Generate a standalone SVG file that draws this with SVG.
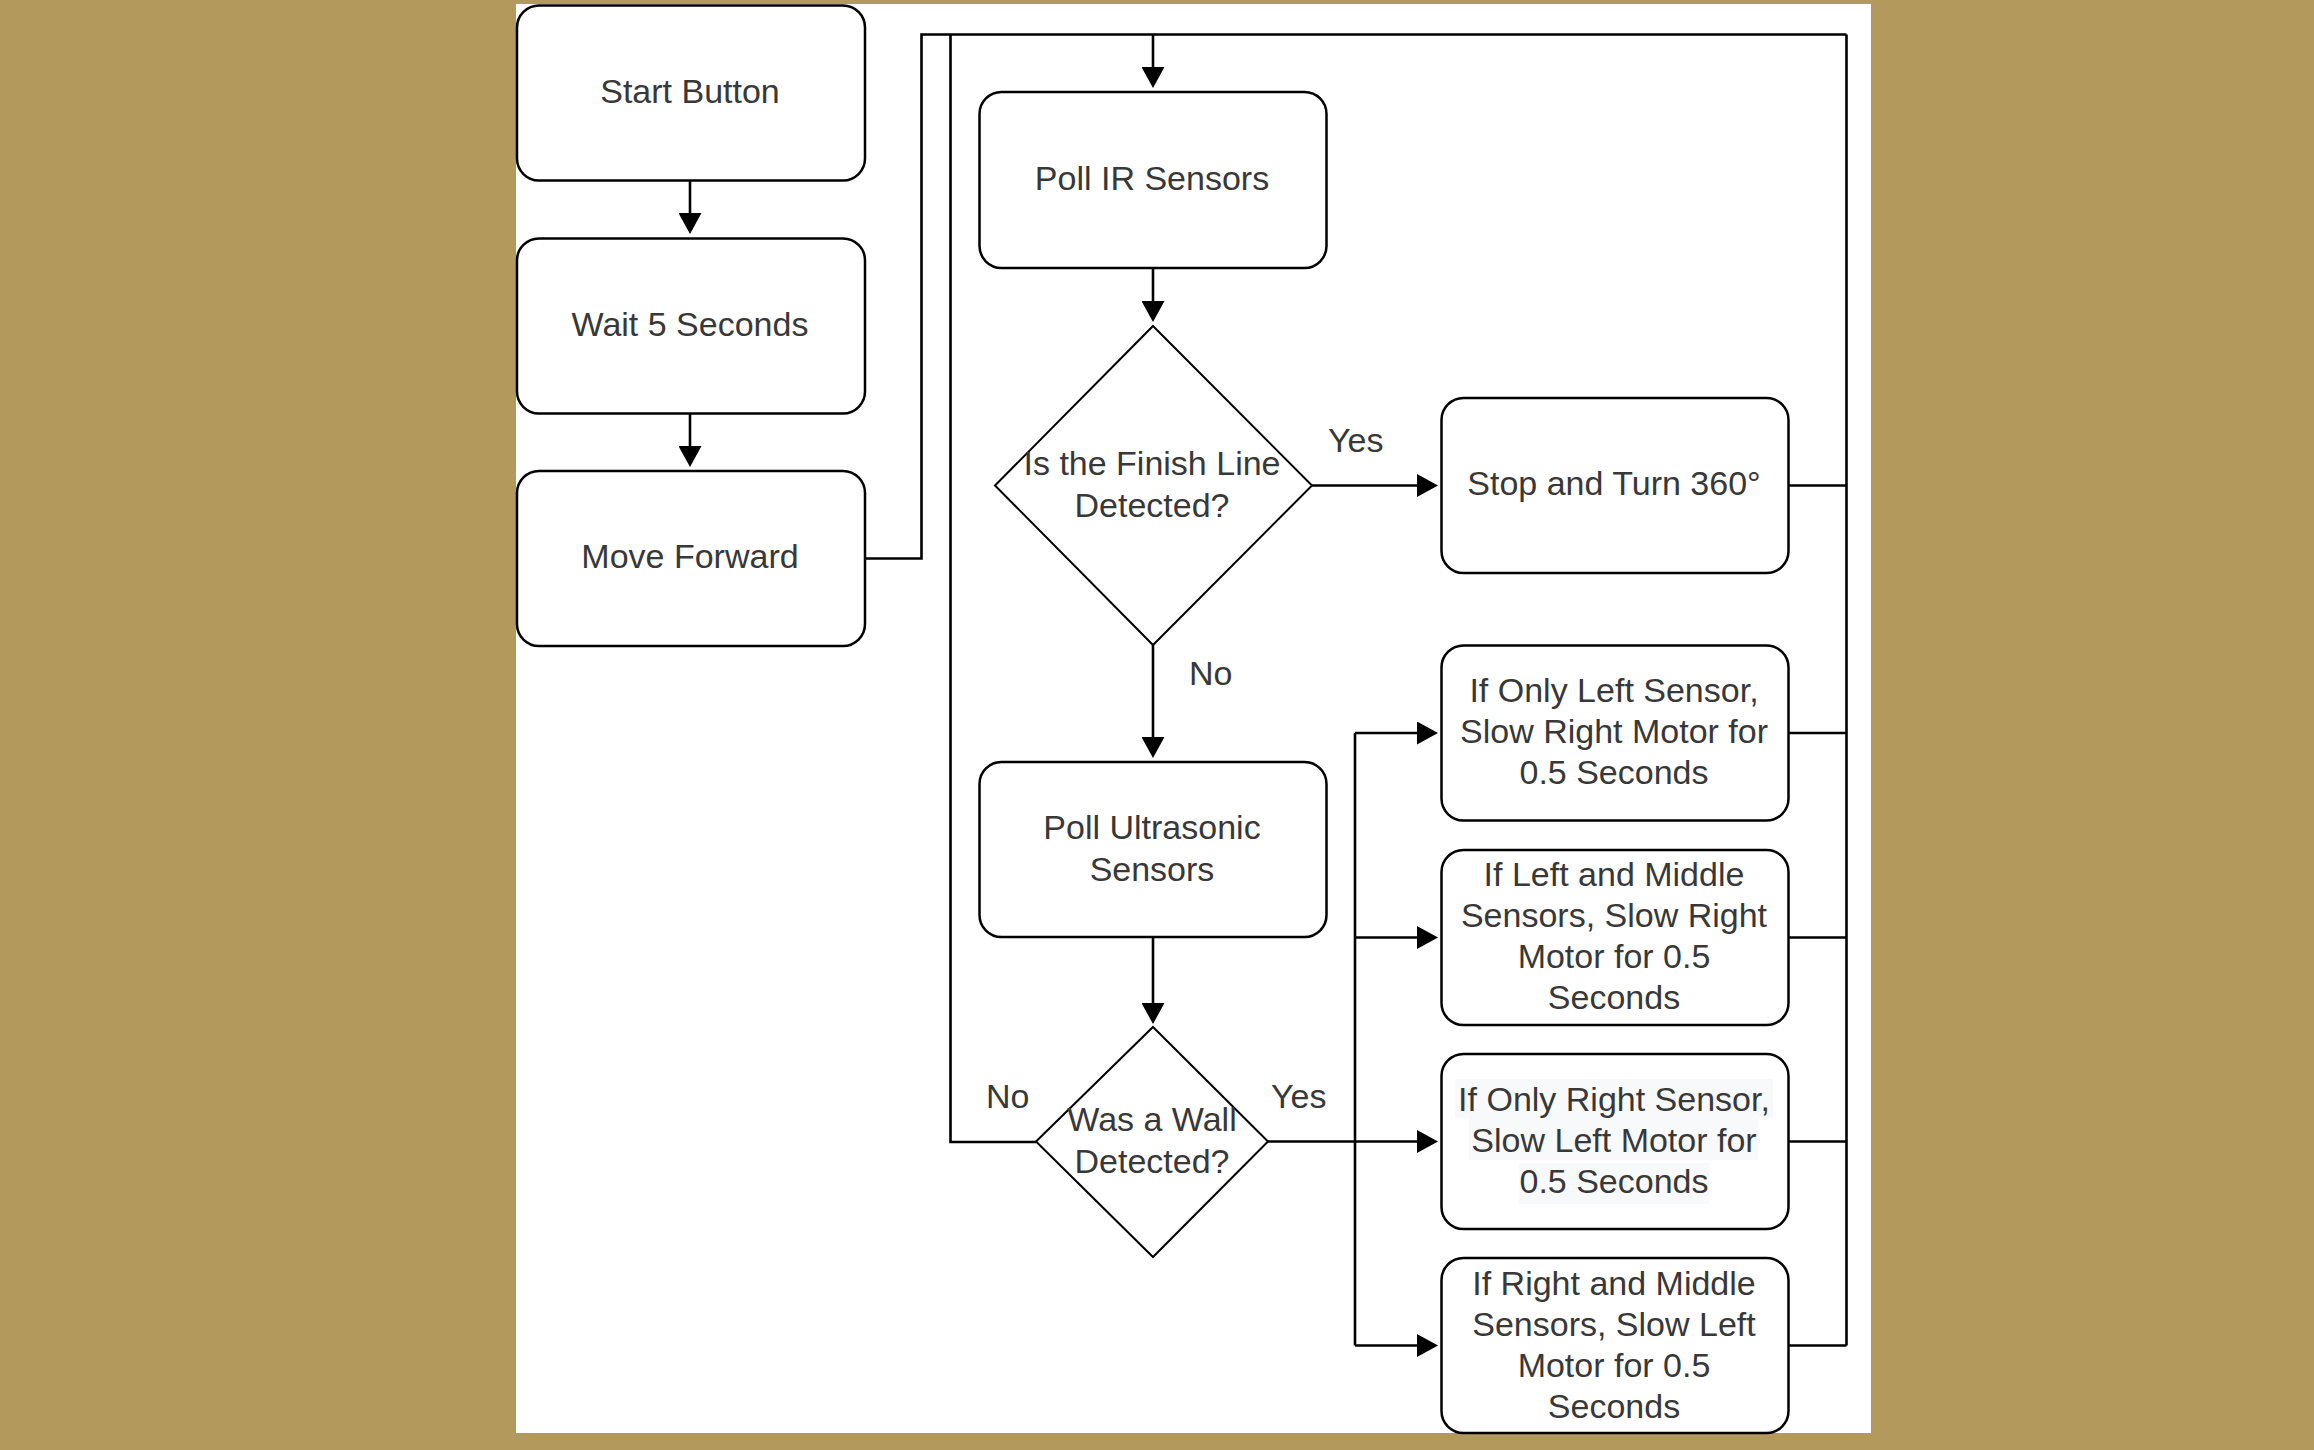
<svg xmlns="http://www.w3.org/2000/svg" width="2314" height="1450" viewBox="0 0 2314 1450">
  <defs>
    <style>
      .box { fill: #ffffff; stroke: #000000; stroke-width: 2.5; }
      .dia { fill: #ffffff; stroke: #000000; stroke-width: 2; }
      .wire { fill: none; stroke: #000000; stroke-width: 2.6; }
      .txt { font-family: "Liberation Sans", Arial, sans-serif; font-size: 34px; fill: #383838; text-anchor: middle; }
      .tag { font-family: "Liberation Sans", Arial, sans-serif; font-size: 34px; fill: #383838; }
      .hl { fill: #f8f9fa; }
    </style>
    <marker id="head" viewBox="0 0 21 23" refX="0" refY="11.5" markerWidth="21" markerHeight="23" markerUnits="userSpaceOnUse" orient="auto">
      <path d="M0,0 L21,11.5 L0,23 Z" fill="#000000"/>
    </marker>
  </defs>

  <!-- page background and white sheet -->
  <rect x="0" y="0" width="2314" height="1450" fill="#b3995b"/>
  <rect x="516" y="4" width="1355" height="1429" fill="#ffffff"/>

  <!-- connectors -->
  <g id="connectors">
    <path class="wire" d="M865,558.5 H921.5 V34.5 H1846.5"/>
    <path class="wire" d="M1036,1142 H950.5 V34.5"/>
    <path class="wire" d="M1846.5,34.5 V1345.5"/>
    <path class="wire" d="M1788.5,485.5 H1846.5 M1788.5,733 H1846.5 M1788.5,937.5 H1846.5 M1788.5,1141.5 H1846.5 M1788.5,1345.5 H1846.5"/>
    <path class="wire" d="M690,180.5 V213" marker-end="url(#head)"/>
    <path class="wire" d="M690,413.5 V446" marker-end="url(#head)"/>
    <path class="wire" d="M1153,34.5 V67" marker-end="url(#head)"/>
    <path class="wire" d="M1153,268 V301" marker-end="url(#head)"/>
    <path class="wire" d="M1312,485.5 H1417" marker-end="url(#head)"/>
    <path class="wire" d="M1153,645 V737" marker-end="url(#head)"/>
    <path class="wire" d="M1153,937 V1003" marker-end="url(#head)"/>
    <path class="wire" d="M1268,1141.5 H1417" marker-end="url(#head)"/>
    <path class="wire" d="M1355,1345.5 V733"/>
    <path class="wire" d="M1355,733 H1417" marker-end="url(#head)"/>
    <path class="wire" d="M1355,937.5 H1417" marker-end="url(#head)"/>
    <path class="wire" d="M1355,1345.5 H1417" marker-end="url(#head)"/>
    <text class="tag" x="1328" y="452">Yes</text>
    <text class="tag" x="1189" y="685">No</text>
    <text class="tag" x="986" y="1108">No</text>
    <text class="tag" x="1271" y="1108">Yes</text>
  </g>

  <!-- left column -->
  <g id="start-button">
    <rect class="box" x="517" y="5.5" width="348" height="175" rx="22"/>
    <text class="txt" x="690" y="102.5">Start Button</text>
  </g>
  <g id="wait-5-seconds">
    <rect class="box" x="517" y="238.5" width="348" height="175" rx="22"/>
    <text class="txt" x="690" y="336">Wait 5 Seconds</text>
  </g>
  <g id="move-forward">
    <rect class="box" x="517" y="471" width="348" height="175" rx="22"/>
    <text class="txt" x="690" y="568">Move Forward</text>
  </g>

  <!-- middle column -->
  <g id="poll-ir">
    <rect class="box" x="979.5" y="92" width="347" height="176" rx="22"/>
    <text class="txt" x="1152" y="189.5">Poll IR Sensors</text>
  </g>
  <g id="finish-line">
    <polygon class="dia" points="1153,326 1312,485.5 1153,645 995,485.5"/>
    <text class="txt"><tspan x="1152" y="475">Is the Finish Line</tspan><tspan x="1152" y="517">Detected?</tspan></text>
  </g>
  <g id="poll-ultrasonic">
    <rect class="box" x="979.5" y="762" width="347" height="175" rx="22"/>
    <text class="txt"><tspan x="1152" y="838.5">Poll Ultrasonic</tspan><tspan x="1152" y="880.5">Sensors</tspan></text>
  </g>
  <g id="wall-detected">
    <polygon class="dia" points="1153,1027 1268,1141.5 1153,1257 1036,1141.5"/>
    <text class="txt"><tspan x="1152" y="1131">Was a Wall</tspan><tspan x="1152" y="1173">Detected?</tspan></text>
  </g>

  <!-- right column -->
  <g id="stop-turn">
    <rect class="box" x="1441.5" y="398" width="347" height="175" rx="22"/>
    <text class="txt" x="1614" y="495">Stop and Turn 360°</text>
  </g>
  <g id="only-left">
    <rect class="box" x="1441.5" y="645.5" width="347" height="175" rx="22"/>
    <text class="txt"><tspan x="1614" y="702">If Only Left Sensor,</tspan><tspan x="1614" y="743">Slow Right Motor for</tspan><tspan x="1614" y="784">0.5 Seconds</tspan></text>
  </g>
  <g id="left-middle">
    <rect class="box" x="1441.5" y="850" width="347" height="175" rx="22"/>
    <text class="txt"><tspan x="1614" y="886">If Left and Middle</tspan><tspan x="1614" y="927">Sensors, Slow Right</tspan><tspan x="1614" y="968">Motor for 0.5</tspan><tspan x="1614" y="1009">Seconds</tspan></text>
  </g>
  <g id="only-right">
    <rect class="box" x="1441.5" y="1054" width="347" height="175" rx="22"/>
    <rect class="hl" x="1455" y="1079" width="318" height="39"/>
    <rect class="hl" x="1469" y="1118" width="289" height="42"/>
    <rect class="hl" x="1519" y="1163" width="190" height="41"/>
    <text class="txt"><tspan x="1614" y="1110.5">If Only Right Sensor,</tspan><tspan x="1614" y="1151.5">Slow Left Motor for</tspan><tspan x="1614" y="1192.5">0.5 Seconds</tspan></text>
  </g>
  <g id="right-middle">
    <rect class="box" x="1441.5" y="1258" width="347" height="175" rx="22"/>
    <text class="txt"><tspan x="1614" y="1295">If Right and Middle</tspan><tspan x="1614" y="1336">Sensors, Slow Left</tspan><tspan x="1614" y="1377">Motor for 0.5</tspan><tspan x="1614" y="1418">Seconds</tspan></text>
  </g>
</svg>
